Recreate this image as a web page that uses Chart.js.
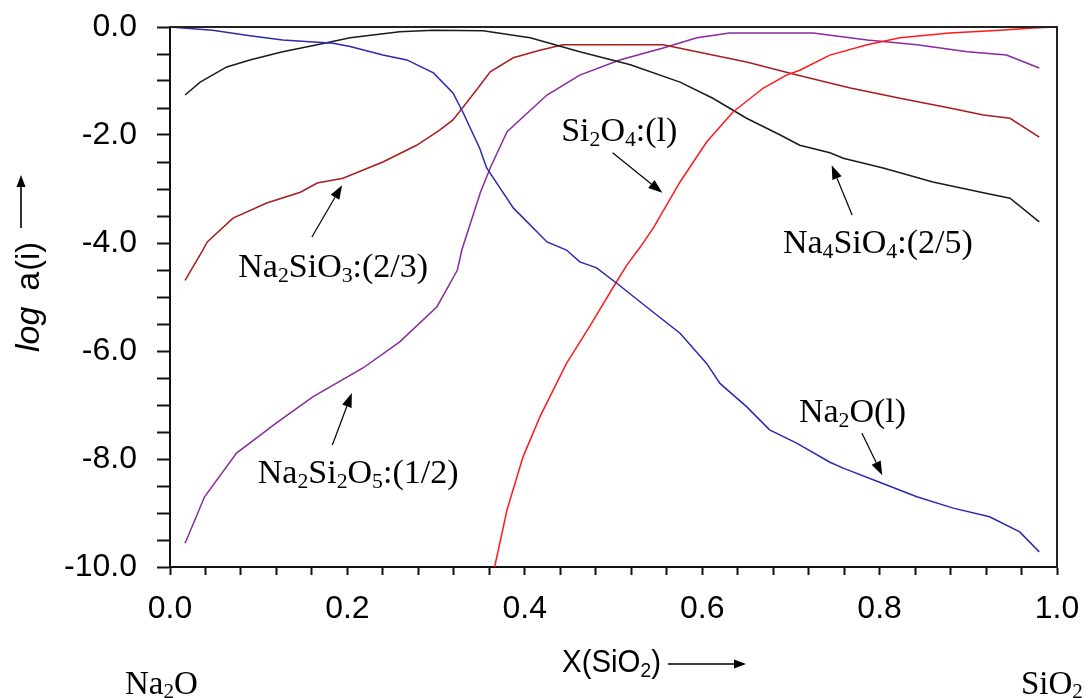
<!DOCTYPE html>
<html><head><meta charset="utf-8">
<script src="https://cdn.jsdelivr.net/npm/chart.js@4.4.1/dist/chart.umd.min.js"></script>
<style>html,body{margin:0;padding:0;background:#fff}#wrap{width:1091px;height:698px;position:relative}</style>
</head><body><div id="wrap"><canvas id="c" width="1091" height="698"></canvas></div>
<script>
// ---- data (x = X(SiO2), y = log a(i)) ----
const na2oX = [0, 0.048, 0.09, 0.127, 0.184, 0.203, 0.24, 0.267, 0.297, 0.319, 0.33, 0.349, 0.357, 0.372, 0.387, 0.425, 0.447, 0.462, 0.481, 0.504, 0.537, 0.575, 0.605, 0.62, 0.65, 0.676, 0.707, 0.744, 0.759, 0.8, 0.842, 0.883, 0.924, 0.958, 0.98];
const na2oY = [0, -0.06, -0.16, -0.24, -0.30, -0.36, -0.52, -0.61, -0.85, -1.22, -1.57, -2.24, -2.61, -2.98, -3.35, -3.98, -4.13, -4.35, -4.46, -4.75, -5.18, -5.67, -6.23, -6.6, -7.03, -7.46, -7.71, -8.06, -8.17, -8.43, -8.70, -8.91, -9.07, -9.35, -9.72];

const si2o4X = [0.366, 0.38, 0.398, 0.417, 0.447, 0.473, 0.5, 0.515, 0.53, 0.545, 0.575, 0.605, 0.635, 0.669, 0.695, 0.71, 0.744, 0.786, 0.823, 0.879, 0.936, 0.973, 1.0];
const si2o4Y = [-10, -8.94, -7.96, -7.22, -6.23, -5.55, -4.81, -4.41, -4.08, -3.72, -2.87, -2.13, -1.57, -1.13, -0.89, -0.80, -0.52, -0.33, -0.2, -0.11, -0.06, -0.02, 0];

const na4sio4X = [0.017, 0.034, 0.064, 0.09, 0.127, 0.166, 0.203, 0.259, 0.297, 0.353, 0.406, 0.462, 0.519, 0.575, 0.612, 0.65, 0.688, 0.71, 0.744, 0.759, 0.804, 0.86, 0.917, 0.947, 0.98];
const na4sio4Y = [-1.26, -1.02, -0.74, -0.61, -0.46, -0.33, -0.2, -0.09, -0.06, -0.07, -0.2, -0.46, -0.70, -1.02, -1.32, -1.69, -2.0, -2.19, -2.33, -2.43, -2.61, -2.87, -3.07, -3.17, -3.61];

const na2sio3X = [0.017, 0.037, 0.042, 0.071, 0.109, 0.147, 0.166, 0.195, 0.24, 0.278, 0.304, 0.319, 0.335, 0.35, 0.361, 0.387, 0.417, 0.443, 0.5, 0.556, 0.594, 0.65, 0.707, 0.767, 0.823, 0.879, 0.917, 0.947, 0.98];
const na2sio3Y = [-4.69, -4.13, -3.98, -3.54, -3.26, -3.06, -2.89, -2.80, -2.5, -2.19, -1.91, -1.72, -1.39, -1.07, -0.83, -0.57, -0.43, -0.33, -0.33, -0.33, -0.46, -0.65, -0.89, -1.13, -1.32, -1.5, -1.63, -1.69, -2.04];

const na2si2o5X = [0.017, 0.039, 0.075, 0.12, 0.161, 0.218, 0.259, 0.301, 0.324, 0.329, 0.35, 0.361, 0.38, 0.425, 0.462, 0.507, 0.556, 0.594, 0.631, 0.669, 0.725, 0.786, 0.842, 0.899, 0.943, 0.98];
const na2si2o5Y = [-9.56, -8.70, -7.89, -7.33, -6.85, -6.31, -5.83, -5.18, -4.5, -4.13, -3.06, -2.61, -1.94, -1.26, -0.89, -0.61, -0.39, -0.2, -0.11, -0.11, -0.11, -0.24, -0.33, -0.46, -0.52, -0.76];

const xTickLabels = ['0.0', '0.2', '0.4', '0.6', '0.8', '1.0'];
const yTickLabels = ['0.0', '-2.0', '-4.0', '-6.0', '-8.0', '-10.0'];

const seriesNames = ['Na2O(l)', 'Si2O4:(l)', 'Na4SiO4:(2/5)', 'Na2SiO3:(2/3)', 'Na2Si2O5:(1/2)'];

// annotation labels: text (with _n subscripts), anchor of text, arrow tail & tip in data units
const annotations = [
  { text: 'Si_2O_4:(l)',      tx: 0.441, ty: -2.11, ax: [0.499, -2.33], tip: [0.555, -3.07] },
  { text: 'Na_2SiO_3:(2/3)',  tx: 0.077, ty: -4.63, ax: [0.160, -3.89], tip: [0.194, -2.93] },
  { text: 'Na_4SiO_4:(2/5)',  tx: 0.691, ty: -4.19, ax: [0.769, -3.48], tip: [0.746, -2.56] },
  { text: 'Na_2Si_2O_5:(1/2)',tx: 0.099, ty: -8.44, ax: [0.183, -7.74], tip: [0.205, -6.78] },
  { text: 'Na_2O(l)',         tx: 0.709, ty: -7.31, ax: [0.780, -7.52], tip: [0.803, -8.30] }
];

const colors = ['#2a2aae', '#ff1a1a', '#1a1a1a', '#a61e1e', '#8a2a9e'];

function pts(xs, ys) { return xs.map((x, i) => ({ x: x, y: ys[i] })); }

const datasets = [
  pts(na2oX, na2oY), pts(si2o4X, si2o4Y), pts(na4sio4X, na4sio4Y),
  pts(na2sio3X, na2sio3Y), pts(na2si2o5X, na2si2o5Y)
].map((d, i) => ({
  label: seriesNames[i], data: d, showLine: true, borderColor: colors[i],
  backgroundColor: colors[i], borderWidth: 1.5, pointRadius: 0, tension: 0, fill: false
}));

function richParts(s) {
  const out = []; let i = 0; let buf = '';
  while (i < s.length) {
    if (s[i] === '_') { if (buf) out.push({ t: buf, sub: false }); buf = ''; out.push({ t: s[i + 1], sub: true }); i += 2; }
    else { buf += s[i]; i++; }
  }
  if (buf) out.push({ t: buf, sub: false });
  return out;
}
function drawRich(ctx, s, x, y, size, family, subScale, subDrop) {
  let cx = x;
  for (const p of richParts(s)) {
    const fs = p.sub ? size * subScale : size;
    ctx.font = fs + 'px ' + family;
    ctx.fillText(p.t, cx, y + (p.sub ? subDrop : 0));
    cx += ctx.measureText(p.t).width;
  }
}
function arrow(ctx, x1, y1, x2, y2, len, wid) {
  const ang = Math.atan2(y2 - y1, x2 - x1);
  const bx = x2 - len * Math.cos(ang), by = y2 - len * Math.sin(ang);
  ctx.beginPath(); ctx.moveTo(x1, y1); ctx.lineTo(bx, by); ctx.stroke();
  ctx.beginPath(); ctx.moveTo(x2, y2);
  ctx.lineTo(bx + wid / 2 * Math.sin(ang), by - wid / 2 * Math.cos(ang));
  ctx.lineTo(bx - wid / 2 * Math.sin(ang), by + wid / 2 * Math.cos(ang));
  ctx.closePath(); ctx.fill();
}

const overlay = {
  id: 'overlay',
  afterDraw(chart) {
    const ctx = chart.ctx, a = chart.chartArea, xs = chart.scales.x, ys = chart.scales.y;
    ctx.save();
    // frame top and right
    ctx.strokeStyle = '#222'; ctx.lineWidth = 2;
    ctx.beginPath(); ctx.moveTo(a.left, a.top); ctx.lineTo(a.right, a.top); ctx.lineTo(a.right, a.bottom); ctx.stroke();
    // annotations
    ctx.fillStyle = '#000'; ctx.strokeStyle = '#000'; ctx.lineWidth = 1.2; ctx.textBaseline = 'alphabetic'; ctx.textAlign = 'left';
    const serif = '"Liberation Serif", "Times New Roman", serif';
    for (const an of annotations) {
      drawRich(ctx, an.text, xs.getPixelForValue(an.tx), ys.getPixelForValue(an.ty), 34, serif, 0.64, 5);
      arrow(ctx, xs.getPixelForValue(an.ax[0]), ys.getPixelForValue(an.ax[1]),
        xs.getPixelForValue(an.tip[0]), ys.getPixelForValue(an.tip[1]), 14, 10);
    }
    // bottom component labels
    drawRich(ctx, 'Na_2O', 125, 694, 33, serif, 0.64, 4);
    drawRich(ctx, 'SiO_2', 1021, 694, 33, serif, 0.64, 4);
    // x axis title (condensed sans)
    const sans = '"Liberation Sans", Arial, sans-serif';
    ctx.save(); ctx.translate(562, 672); ctx.scale(0.92, 1);
    drawRich(ctx, 'X(SiO_2)', 0, 0, 32, sans, 0.65, 5);
    ctx.restore();
    ctx.lineWidth = 1.6;
    arrow(ctx, 668, 664, 746, 664, 12, 9);
    // y axis title
    ctx.save(); ctx.translate(39, 352); ctx.rotate(-Math.PI / 2);
    ctx.font = 'italic 34px ' + sans; ctx.fillText('log', 0, 0);
    let w = ctx.measureText('log').width + 16;
    ctx.font = '34px ' + sans; ctx.fillText('a', w, 0); w += ctx.measureText('a').width + 1;
    ctx.save(); ctx.translate(w, 0); ctx.scale(0.95, 1); ctx.font = '34px ' + sans; ctx.fillText('(i)', 0, 0); ctx.restore();
    ctx.restore();
    arrow(ctx, 21, 228, 21, 175, 12, 9);
    ctx.restore();
  }
};

new Chart(document.getElementById('c'), {
  type: 'scatter',
  data: { datasets: datasets },
  plugins: [overlay],
  options: {
    responsive: false, animation: false, devicePixelRatio: 1,
    layout: { padding: { left: 0, right: 34, top: 27, bottom: 0 } },
    plugins: { legend: { display: false }, tooltip: { enabled: false }, title: { display: false } },
    scales: {
      x: {
        type: 'linear', min: 0, max: 1,
        afterFit(s) { s.height = 131; s.paddingLeft = 0; s.paddingRight = 0; s.paddingTop = 0; s.paddingBottom = 0; },
        border: { display: true, color: '#111', width: 2 },
        grid: { drawOnChartArea: false, drawTicks: true, tickLength: 8, tickColor: '#111', tickWidth: 2 },
        ticks: {
          stepSize: 0.04, autoSkip: false, maxRotation: 0, minRotation: 0, padding: 15, color: '#000',
          font: { family: '"Liberation Sans", Arial, sans-serif', size: 32 },
          callback(v) { const k = Math.round(v * 100); return k % 20 === 0 ? xTickLabels[k / 20] : ''; }
        }
      },
      y: {
        type: 'linear', min: -10, max: 0,
        afterFit(s) { s.width = 170; s.paddingLeft = 0; s.paddingRight = 0; s.paddingTop = 0; s.paddingBottom = 0; },
        border: { display: true, color: '#111', width: 2 },
        grid: { drawOnChartArea: false, drawTicks: true, tickLength: 13, tickColor: '#111', tickWidth: 2 },
        ticks: {
          stepSize: 0.5, autoSkip: false, padding: 20, color: '#000',
          font: { family: '"Liberation Sans", Arial, sans-serif', size: 32 },
          callback(v) { const k = Math.round(-v * 10); return k % 20 === 0 ? yTickLabels[k / 20] : ''; }
        }
      }
    }
  }
});
</script></body></html>
